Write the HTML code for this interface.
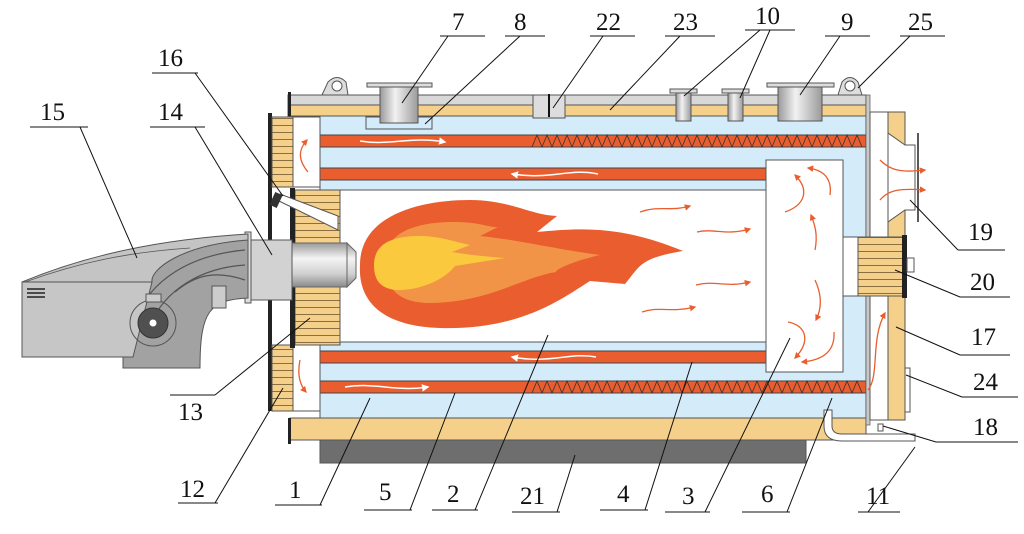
<!DOCTYPE html>
<html><head><meta charset="utf-8"><style>
html,body{margin:0;padding:0;background:#fff;}
svg{display:block;}
text{font-family:"Liberation Serif",serif;font-size:25px;fill:#111;}
</style></head><body>
<svg width="1024" height="534" viewBox="0 0 1024 534" xmlns="http://www.w3.org/2000/svg">
<defs>
<linearGradient id="cyl" x1="0" y1="0" x2="0" y2="1">
<stop offset="0" stop-color="#9a9a9a"/><stop offset="0.35" stop-color="#f4f4f4"/><stop offset="0.7" stop-color="#d0d0d0"/><stop offset="1" stop-color="#8a8a8a"/></linearGradient>
<linearGradient id="noz" x1="0" y1="0" x2="1" y2="0">
<stop offset="0" stop-color="#999"/><stop offset="0.4" stop-color="#f2f2f2"/><stop offset="1" stop-color="#9a9a9a"/></linearGradient>
<pattern id="brick" width="10" height="7" patternUnits="userSpaceOnUse"><rect width="10" height="7" fill="#f5d08a"/><rect y="6" width="10" height="1" fill="#8a7040"/></pattern>
<marker id="ar" viewBox="0 0 10 10" refX="8" refY="5" markerWidth="5" markerHeight="5" orient="auto"><path d="M0,0L10,5L0,10z" fill="#ea5d2e"/></marker>
<marker id="aw" viewBox="0 0 10 10" refX="8" refY="5" markerWidth="5" markerHeight="5" orient="auto"><path d="M0,0L10,5L0,10z" fill="#fff"/></marker>
</defs>

<rect x="320" y="440" width="486" height="23" fill="#6e6e6e" stroke="#555"/>
<rect x="290" y="418" width="576" height="22" fill="#f5d08a" stroke="#555"/>
<rect x="288" y="95" width="578" height="10" fill="#d8d8d8" stroke="#555"/>
<rect x="288" y="105" width="578" height="11" fill="#f5d08a" stroke="#555"/>
<rect x="320" y="116" width="546" height="302" fill="#d4ecfa" stroke="#555"/>
<rect x="320" y="135" width="546" height="12" fill="#ea5d2e" stroke="#444"/>
<rect x="320" y="168" width="446" height="12" fill="#ea5d2e" stroke="#444"/>
<rect x="320" y="351" width="446" height="12" fill="#ea5d2e" stroke="#444"/>
<rect x="320" y="381" width="546" height="12" fill="#ea5d2e" stroke="#444"/>
<path d="M532,147 L537,135 L542,147 L547,135 L552,147 L557,135 L562,147 L567,135 L572,147 L577,135 L582,147 L587,135 L592,147 L597,135 L602,147 L607,135 L612,147 L617,135 L622,147 L627,135 L632,147 L637,135 L642,147 L647,135 L652,147 L657,135 L662,147 L667,135 L672,147 L677,135 L682,147 L687,135 L692,147 L697,135 L702,147 L707,135 L712,147 L717,135 L722,147 L727,135 L732,147 L737,135 L742,147 L747,135 L752,147 L757,135 L762,147 L767,135 L772,147 L777,135 L782,147 L787,135 L792,147 L797,135 L802,147 L807,135 L812,147 L817,135 L822,147 L827,135 L832,147 L837,135 L842,147 L847,135 L852,147 L857,135 L862,147" fill="none" stroke="#333" stroke-width="0.8"/>
<path d="M532,393 L537,381 L542,393 L547,381 L552,393 L557,381 L562,393 L567,381 L572,393 L577,381 L582,393 L587,381 L592,393 L597,381 L602,393 L607,381 L612,393 L617,381 L622,393 L627,381 L632,393 L637,381 L642,393 L647,381 L652,393 L657,381 L662,393 L667,381 L672,393 L677,381 L682,393 L687,381 L692,393 L697,381 L702,393 L707,381 L712,393 L717,381 L722,393 L727,381 L732,393 L737,381 L742,393 L747,381 L752,393 L757,381 L762,393 L767,381 L772,393 L777,381 L782,393 L787,381 L792,393 L797,381 L802,393 L807,381 L812,393 L817,381 L822,393 L827,381 L832,393 L837,381 L842,393 L847,381 L852,393 L857,381 L862,393" fill="none" stroke="#333" stroke-width="0.8"/>
<path d="M360,141 C390,146 410,136 445,142" fill="none" stroke="#fff" stroke-width="1.5" marker-end="url(#aw)"/>
<path d="M598,174 C570,168 550,180 512,174" fill="none" stroke="#fff" stroke-width="1.5" marker-end="url(#aw)"/>
<path d="M596,357 C570,352 550,364 512,357" fill="none" stroke="#fff" stroke-width="1.5" marker-end="url(#aw)"/>
<path d="M345,387 C375,382 395,392 428,387" fill="none" stroke="#fff" stroke-width="1.5" marker-end="url(#aw)"/>
<rect x="340" y="190" width="426" height="152" fill="#fff" stroke="#555"/>
<rect x="766" y="160" width="77" height="212" fill="#fff" stroke="#555"/>
<rect x="843" y="237" width="16" height="59" fill="#fff" stroke="#555"/>
<rect x="866" y="95" width="4" height="330" fill="#c8c8c8" stroke="#555" stroke-width="0.7"/>
<rect x="870" y="112" width="18" height="308" fill="#fff" stroke="#555"/>
<rect x="888" y="112" width="17" height="308" fill="#f5d08a" stroke="#555"/>
<path d="M888,133 L905,145 L915,145 L915,210 L905,210 L888,222 Z" fill="#fff" stroke="#555"/>
<line x1="918" y1="133" x2="918" y2="222" stroke="#222" stroke-width="1.5"/>
<rect x="858" y="237" width="45" height="59" fill="url(#brick)" stroke="#555"/>
<rect x="902" y="235" width="5" height="63" fill="#222"/>
<rect x="907" y="258" width="7" height="14" fill="#fff" stroke="#555"/>
<rect x="905" y="368" width="5" height="44" fill="#fff" stroke="#555"/>
<path d="M824,410 L832,410 L832,426 Q832,434 842,434 L915,434 L915,441 L842,441 Q824,441 824,426 Z" fill="#fff" stroke="#555"/>
<rect x="878" y="424" width="5" height="7" fill="#fff" stroke="#555"/>
<rect x="268" y="113" width="4" height="298" fill="#222"/>
<rect x="272" y="117" width="21" height="70" fill="url(#brick)" stroke="#555"/>
<rect x="272" y="345" width="21" height="66" fill="url(#brick)" stroke="#555"/>
<rect x="293" y="117" width="27" height="70" fill="#fff" stroke="#555"/>
<rect x="293" y="345" width="27" height="66" fill="#fff" stroke="#555"/>
<rect x="288" y="92" width="3" height="24" fill="#222"/>
<rect x="288" y="418" width="3" height="26" fill="#222"/>
<rect x="295" y="190" width="45" height="155" fill="url(#brick)" stroke="#555"/>
<rect x="290" y="188" width="5" height="160" fill="#222"/>
<path d="M277,200 L338,230 L338,216 L280,194 Z" fill="#fff" stroke="#555"/>
<rect x="272" y="193" width="8" height="14" fill="#333" transform="rotate(25 276 200)"/>
<path d="M322,95 L328,82 Q337,73 346,82 L348,95 Z" fill="#ddd" stroke="#555"/>
<circle cx="337" cy="86" r="5" fill="#fff" stroke="#555"/>
<path d="M838,95 L842,82 Q850,73 858,82 L862,95 Z" fill="#ddd" stroke="#555"/>
<circle cx="850" cy="86" r="5" fill="#fff" stroke="#555"/>
<rect x="366" y="117" width="66" height="12" fill="#d4ecfa" stroke="#555"/>
<rect x="367" y="83" width="65" height="4" fill="#ddd" stroke="#555"/>
<rect x="380" y="87" width="38" height="36" fill="url(#noz)" stroke="#555"/>
<rect x="767" y="83" width="67" height="4" fill="#ddd" stroke="#555"/>
<rect x="778" y="87" width="44" height="34" fill="url(#noz)" stroke="#555"/>
<rect x="670" y="89" width="27" height="4" fill="#ddd" stroke="#555"/>
<rect x="676" y="93" width="15" height="28" fill="url(#noz)" stroke="#555"/>
<rect x="722" y="89" width="27" height="4" fill="#ddd" stroke="#555"/>
<rect x="728" y="93" width="15" height="28" fill="url(#noz)" stroke="#555"/>
<rect x="533" y="95" width="32" height="23" fill="#ddd" stroke="#555"/>
<line x1="549" y1="94" x2="549" y2="117" stroke="#111" stroke-width="2"/>
<path d="M360,265 C360,215 420,200 470,200 C510,200 530,215 557,216 L537,232 C580,228 620,225 683,251 C640,258 640,266 625,284 L590,281 C560,300 520,330 440,328 C380,326 358,300 360,265 Z" fill="#ea5d2e"/>
<path d="M385,262 C385,235 410,222 455,222 C480,222 490,228 498,227 L480,236 C520,240 560,250 600,255 C570,262 555,270 556,272 C520,278 490,302 430,303 C395,303 385,285 385,262 Z" fill="#f29447"/>
<path d="M374,265 C374,242 395,236 420,236 C440,236 455,242 470,245 L452,252 C470,255 490,257 505,258 L455,266 C440,285 410,291 395,290 C380,288 374,280 374,265 Z" fill="#fbc93d"/>
<rect x="292" y="243" width="55" height="44" fill="url(#cyl)" stroke="#666"/>
<path d="M347,243 L356,252 L356,278 L347,287 Z" fill="url(#cyl)" stroke="#666"/>
<rect x="250" y="240" width="42" height="60" fill="#d2d2d2" stroke="#555"/>
<rect x="245" y="232" width="6" height="71" fill="#ddd" stroke="#555"/>
<path d="M123,368 L123,300 C140,270 180,242 248,236 L248,298 C210,300 200,310 200,368 Z" fill="#a2a2a2" stroke="#555"/>
<path d="M135,320 C150,280 190,255 245,250 M150,325 C165,290 200,268 245,265 M175,292 C195,275 215,270 245,280" fill="none" stroke="#555" stroke-width="1.2"/>
<path d="M22,282 C80,258 150,240 248,234 L248,240 C180,245 150,270 152,282 Z" fill="#c4c4c4" stroke="#555"/>
<path d="M22,282 L152,282 L133,357 L22,357 Z" fill="#c6c6c6" stroke="#555"/>
<path d="M25,282 C80,262 130,252 190,248" fill="none" stroke="#555" stroke-width="0.8"/>
<line x1="27" y1="289" x2="45" y2="289" stroke="#222" stroke-width="1.5"/>
<line x1="27" y1="293" x2="45" y2="293" stroke="#222" stroke-width="1.5"/>
<line x1="27" y1="297" x2="45" y2="297" stroke="#222" stroke-width="1.5"/>
<circle cx="153" cy="323" r="23" fill="none" stroke="#555"/>
<circle cx="153" cy="323" r="15" fill="#505050" stroke="#333"/>
<circle cx="153" cy="323" r="3.5" fill="#fff"/>
<rect x="146" y="294" width="15" height="8" fill="#ccc" stroke="#555"/>
<rect x="212" y="286" width="14" height="22" fill="#ccc" stroke="#555"/>
<g fill="none" stroke="#ea5d2e" stroke-width="1.3" marker-end="url(#ar)">
<path d="M308,172 C298,160 298,150 307,140"/>
<path d="M300,360 C297,375 300,385 306,392"/>
<path d="M640,212 C660,205 670,212 690,206"/>
<path d="M697,232 C715,228 725,236 750,229"/>
<path d="M696,285 C715,280 725,288 750,282"/>
<path d="M642,312 C660,306 670,313 695,307"/>
<path d="M785,212 C805,205 810,190 795,175"/>
<path d="M830,195 C832,180 825,170 808,168"/>
<path d="M815,250 C818,235 815,225 811,215"/>
<path d="M815,280 C822,295 822,308 816,320"/>
<path d="M788,322 C805,325 812,340 795,358"/>
<path d="M834,332 C835,350 825,360 802,362"/>
<path d="M880,160 C890,170 900,173 925,170"/>
<path d="M880,200 C888,190 900,188 925,190"/>
<path d="M868,390 C880,375 870,340 885,313"/>
</g>
<g stroke="#111" stroke-width="1" fill="none">
<path d="M440,36 H485 M448,36 L402,103"/>
<path d="M505,36 H545 M520,36 L425,124"/>
<path d="M590,36 H635 M603,36 L553,108"/>
<path d="M665,36 H715 M680,36 L610,110"/>
<path d="M745,30 H795 M760,30 L684,96 M770,30 L740,98"/>
<path d="M825,36 H870 M840,36 L800,95"/>
<path d="M900,36 H945 M910,36 L858,88"/>
<path d="M152,73 H198 M195,73 L283,196"/>
<path d="M30,127 H88 M80,127 L137,258"/>
<path d="M150,127 H205 M195,127 L272,255"/>
<path d="M170,395 H215 M215,395 L310,318"/>
<path d="M178,503 H218 M215,503 L283,388"/>
<path d="M275,505 H322 M320,505 L370,398"/>
<path d="M364,510 H412 M410,510 L455,393"/>
<path d="M432,510 H478 M475,510 L548,335"/>
<path d="M512,512 H560 M557,512 L575,455"/>
<path d="M600,510 H648 M645,510 L692,362"/>
<path d="M665,512 H710 M705,512 L790,338"/>
<path d="M742,512 H790 M787,512 L832,398"/>
<path d="M858,512 H900 M868,512 L915,447"/>
<path d="M936,442 H1018 M936,442 L883,426"/>
<path d="M962,397 H1018 M962,397 L906,375"/>
<path d="M960,355 H1010 M960,355 L896,327"/>
<path d="M960,297 H1010 M960,297 L895,270"/>
<path d="M958,250 H1005 M958,250 L910,200"/>
</g>
<g>
<text x="452" y="30">7</text>
<text x="514" y="30">8</text>
<text x="596" y="30">22</text>
<text x="673" y="30">23</text>
<text x="755" y="24">10</text>
<text x="841" y="30">9</text>
<text x="908" y="30">25</text>
<text x="158" y="66">16</text>
<text x="40" y="120">15</text>
<text x="158" y="120">14</text>
<text x="178" y="420">13</text>
<text x="180" y="497">12</text>
<text x="289" y="498">1</text>
<text x="379" y="500">5</text>
<text x="447" y="502">2</text>
<text x="520" y="504">21</text>
<text x="617" y="502">4</text>
<text x="682" y="504">3</text>
<text x="761" y="502">6</text>
<text x="866" y="504">11</text>
<text x="973" y="435">18</text>
<text x="973" y="390">24</text>
<text x="971" y="345">17</text>
<text x="970" y="290">20</text>
<text x="968" y="240">19</text>
</g>
</svg>
</body></html>
